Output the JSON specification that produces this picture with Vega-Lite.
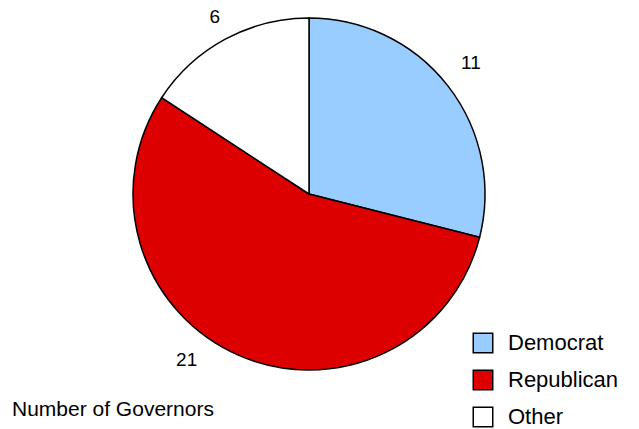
{
  "$schema": "https://vega.github.io/schema/vega-lite/v6.json",
  "width": 618,
  "height": 388,
  "padding": {"left": 0, "top": 0, "right": 21, "bottom": 41},
  "autosize": {"type": "none"},
  "background": "white",
  "config": {"view": {"stroke": null}, "font": "Liberation Sans"},
  "title": {
    "text": "Number of Governors",
    "orient": "top",
    "anchor": "start",
    "frame": "group",
    "offset": 0,
    "baseline": "middle",
    "dy": 439,
    "dx": 12,
    "fontSize": 21,
    "fontWeight": "normal",
    "font": "Liberation Sans",
    "color": "black"
  },
  "data": {
    "values": [
      {"party": "Democrat", "governors": 11, "ord": 1},
      {"party": "Republican", "governors": 21, "ord": 2},
      {"party": "Other", "governors": 6, "ord": 3}
    ]
  },
  "encoding": {
    "theta": {"field": "governors", "type": "quantitative", "stack": true},
    "order": {"field": "ord", "type": "quantitative"}
  },
  "layer": [
    {
      "mark": {"type": "arc", "outerRadius": 176, "stroke": "black", "strokeWidth": 1.5},
      "encoding": {
        "color": {
          "field": "party",
          "type": "nominal",
          "scale": {"domain": ["Democrat", "Republican", "Other"], "range": ["#99CCFF", "#DD0000", "#FFFFFF"]},
          "legend": {
            "title": null,
            "orient": "none",
            "legendX": 472,
            "legendY": 332,
            "symbolType": "square",
            "symbolSize": 380,
            "symbolStrokeColor": "black",
            "symbolStrokeWidth": 1.5,
            "symbolOpacity": 1,
            "labelFontSize": 22,
            "labelFont": "Liberation Sans",
            "labelColor": "black",
            "labelOffset": 14,
            "rowPadding": 11
          }
        }
      }
    },
    {
      "mark": {"type": "text", "radius": 200, "dx": 4, "dy": -8, "fontSize": 19, "font": "Liberation Sans", "color": "black"},
      "encoding": {
        "text": {"condition": {"test": "datum.party == 'Democrat'", "field": "governors", "type": "quantitative"}, "value": ""}
      }
    },
    {
      "mark": {"type": "text", "radius": 200, "dx": 1, "dy": -1, "fontSize": 19, "font": "Liberation Sans", "color": "black"},
      "encoding": {
        "text": {"condition": {"test": "datum.party == 'Other'", "field": "governors", "type": "quantitative"}, "value": ""}
      }
    },
    {
      "mark": {"type": "text", "radius": 200, "dx": -42, "dy": -17, "fontSize": 19, "font": "Liberation Sans", "color": "black"},
      "encoding": {
        "text": {"condition": {"test": "datum.party == 'Republican'", "field": "governors", "type": "quantitative"}, "value": ""}
      }
    }
  ]
}
